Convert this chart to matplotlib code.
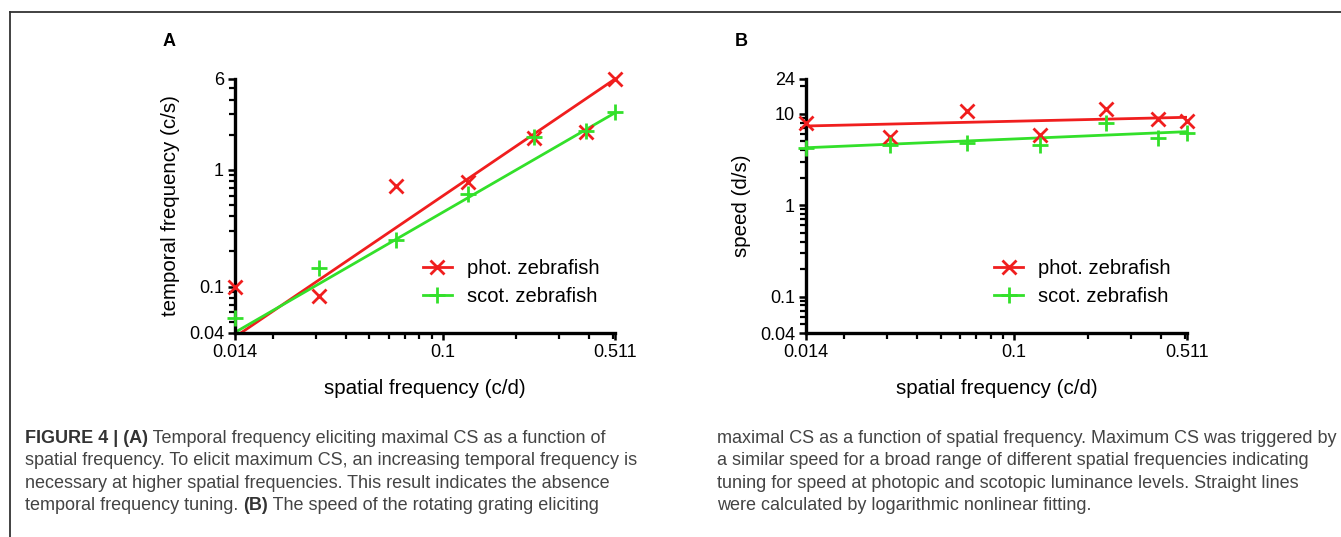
import numpy as np
import matplotlib
matplotlib.use('Agg')
import matplotlib.pyplot as plt
from matplotlib.lines import Line2D
from matplotlib.ticker import FixedLocator, FixedFormatter, LogLocator, NullFormatter

plt.rcParams['font.family'] = ['Liberation Sans', 'DejaVu Sans']

# =========================
# Dados
# =========================
spatial = [0.014, 0.031, 0.064, 0.127, 0.238, 0.388, 0.511]

# Painel A - frequência temporal (c/s)
temp_phot = [0.100, 0.083, 0.72, 0.79, 1.86, 2.12, 6.0]
temp_scot = [0.054, 0.143, 0.25, 0.62, 1.92, 2.15, 3.15]

# Painel B - velocidade (d/s)
speed_phot = [8.0, 5.6, 10.8, 5.9, 11.2, 8.8, 8.3]
speed_scot = [4.25, 4.6, 4.75, 4.6, 7.85, 5.4, 6.2]

# rectas de ajuste (valores nos extremos 0.014 e 0.511)
fit_x = [0.014, 0.511]
fit_a_phot = [0.037, 6.0]
fit_a_scot = [0.0405, 3.08]
fit_b_phot = [7.35, 9.15]
fit_b_scot = [4.25, 6.37]

x_ticks = [0.014, 0.1, 0.511]
x_labels = ['0.014', '0.1', '0.511']
ya_ticks = [0.04, 0.1, 1, 6]
ya_labels = ['0.04', '0.1', '1', '6']
yb_ticks = [0.04, 0.1, 1, 10, 24]
yb_labels = ['0.04', '0.1', '1', '10', '24']

RED = '#f01e1e'
GREEN = '#33e02a'

caption_left = [
    [('FIGURE 4 | (A)', 'bold'), (' Temporal frequency eliciting maximal CS as a function of', 'normal')],
    [('spatial frequency. To elicit maximum CS, an increasing temporal frequency is', 'normal')],
    [('necessary at higher spatial frequencies. This result indicates the absence', 'normal')],
    [('temporal frequency tuning. ', 'normal'), ('(B)', 'bold'), (' The speed of the rotating grating eliciting', 'normal')],
]
caption_right = [
    [('maximal CS as a function of spatial frequency. Maximum CS was triggered by', 'normal')],
    [('a similar speed for a broad range of different spatial frequencies indicating', 'normal')],
    [('tuning for speed at photopic and scotopic luminance levels. Straight lines', 'normal')],
    [('were calculated by logarithmic nonlinear fitting.', 'normal')],
]

W, H = 1341, 537
fig = plt.figure(figsize=(W / 100, H / 100), dpi=100)


def estilo_eixo(ax, yticks, ylabels, ylim, ylabel):
    ax.set_xscale('log')
    ax.set_yscale('log')
    ax.set_xlim(0.014, 0.511)
    ax.set_ylim(*ylim)
    for s in ['top', 'right']:
        ax.spines[s].set_visible(False)
    for s in ['left', 'bottom']:
        ax.spines[s].set_linewidth(2.4)
    ax.xaxis.set_major_locator(FixedLocator(x_ticks))
    ax.xaxis.set_major_formatter(FixedFormatter(x_labels))
    ax.yaxis.set_major_locator(FixedLocator(yticks))
    ax.yaxis.set_major_formatter(FixedFormatter(ylabels))
    for a in (ax.xaxis, ax.yaxis):
        a.set_minor_locator(LogLocator(base=10, subs=np.arange(2, 10), numticks=20))
        a.set_minor_formatter(NullFormatter())
    ax.tick_params(which='major', length=5, width=1.8, labelsize=13, pad=3, direction='out')
    ax.tick_params(which='minor', length=4, width=1.6, direction='out')
    ax.set_xlabel('spatial frequency (c/d)', fontsize=14.8, labelpad=13)
    ax.set_ylabel(ylabel, fontsize=14.8, labelpad=6)


def painel(rect, y_phot, y_scot, f_phot, f_scot, yticks, ylabels, ylim, ylabel, leg_x):
    ax = fig.add_axes(rect)
    ax.plot(fit_x, f_phot, color=RED, lw=2.0, zorder=2)
    ax.plot(fit_x, f_scot, color=GREEN, lw=2.0, zorder=2)
    ax.plot(spatial, y_phot, ls='none', marker='x', ms=10.5, mew=2.0, color=RED,
            clip_on=False, zorder=3)
    ax.plot(spatial, y_scot, ls='none', marker='+', ms=11.5, mew=2.0, color=GREEN,
            clip_on=False, zorder=3)
    estilo_eixo(ax, yticks, ylabels, ylim, ylabel)
    handles = [Line2D([], [], color=RED, lw=2.0, marker='x', ms=10.5, mew=2.0),
               Line2D([], [], color=GREEN, lw=2.0, marker='+', ms=11.5, mew=2.0)]
    ax.legend(handles, ['phot. zebrafish', 'scot. zebrafish'], frameon=False,
              fontsize=14.5, handlelength=1.45, handletextpad=0.75, labelspacing=0.45,
              loc='center left', bbox_to_anchor=(leg_x, 0.20))
    return ax


ax_a = painel([235 / W, 1 - 333 / H, 380 / W, 254 / H], temp_phot, temp_scot,
              fit_a_phot, fit_a_scot, ya_ticks, ya_labels, (0.04, 6),
              'temporal frequency (c/s)', 0.446)
ax_b = painel([806 / W, 1 - 333 / H, 381 / W, 254 / H], speed_phot, speed_scot,
              fit_b_phot, fit_b_scot, yb_ticks, yb_labels, (0.04, 24),
              'speed (d/s)', 0.446)

fig.text(163 / W, 1 - 41 / H, 'A', fontsize=13, fontweight='bold', va='center')
fig.text(735 / W, 1 - 41 / H, 'B', fontsize=13, fontweight='bold', va='center')

# moldura
fig.add_artist(Line2D([9.5 / W, 9.5 / W], [0, 1 - 11.5 / H], color='#333333', lw=1.3))
fig.add_artist(Line2D([9.5 / W, 1], [1 - 11.5 / H, 1 - 11.5 / H], color='#333333', lw=1.3))

# legenda da figura (texto com partes a negrito)
renderer = fig.canvas.get_renderer()


def escrever(linhas, x0, y0, dy, size=13.0):
    for i, partes in enumerate(linhas):
        x = x0
        y = 1 - (y0 + i * dy) / H
        for texto, peso in partes:
            cor = '#333333' if peso == 'bold' else '#444444'
            t = fig.text(x, y, texto, fontsize=size, fontweight=peso, color=cor,
                         va='baseline', ha='left')
            bb = t.get_window_extent(renderer=renderer)
            x = x + bb.width / W


escrever(caption_left, 25 / W, 443, 22.4)
escrever(caption_right, 717 / W, 443, 22.4)

fig.savefig('out.png', dpi=100)
